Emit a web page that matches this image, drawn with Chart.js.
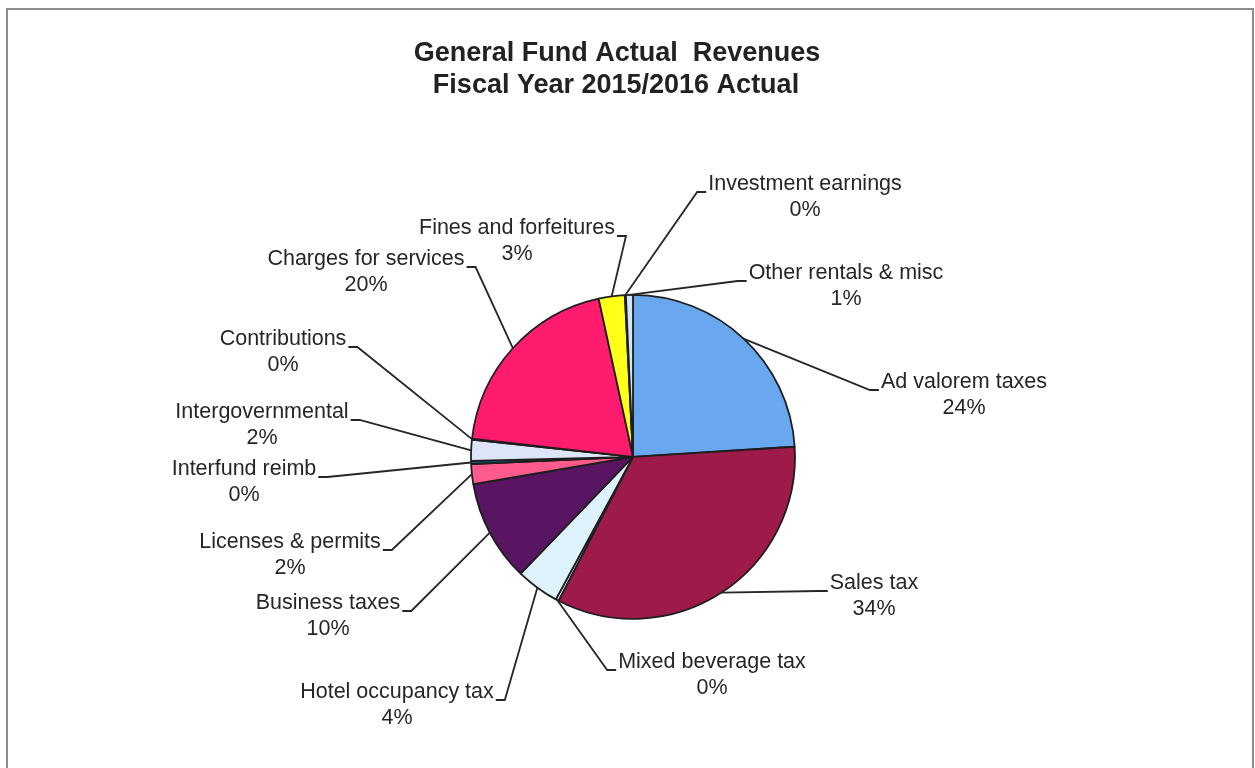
<!DOCTYPE html>
<html>
<head>
<meta charset="utf-8">
<title>General Fund Actual Revenues</title>
<script src="https://cdn.jsdelivr.net/npm/chart.js@4"></script>
<style>
  html, body { margin: 0; padding: 0; background: #fff; }
  #wrap { position: relative; width: 1255px; height: 768px; overflow: hidden; }
  #frame {
    position: absolute; left: 6px; top: 8px; width: 1244px; height: 758px;
    border: 2px solid #8c8c8c; border-bottom-color: #d8d8d8;
  }
  #revChart { position: absolute; left: 0; top: 0; }
</style>
</head>
<body>
<div id="wrap">
  <div id="frame"></div>
  <canvas id="revChart" width="1255" height="768"></canvas>
</div>
<script>
// revenue categories, clockwise from 12 o'clock
const categories = [
  "Ad valorem taxes",
  "Sales tax",
  "Mixed beverage tax",
  "Hotel occupancy tax",
  "Business taxes",
  "Licenses & permits",
  "Interfund reimb",
  "Intergovernmental",
  "Contributions",
  "Charges for services",
  "Fines and forfeitures",
  "Investment earnings",
  "Other rentals & misc"
]
// share of total revenue (%)
const revenueShare = [24.0, 33.6, 0.3, 4.3, 10.1, 2.0, 0.3, 2.1, 0.1, 19.8, 2.6, 0.1, 0.7]

const sliceColors = [
  "#69a7ef", "#9e1a4a", "#e4f3fa", "#ddf2fa", "#5a1562", "#ff5c8d", "#0f5e8c",
  "#dce6f8", "#3b2f7a", "#ff1c6e", "#ffff1a", "#1f3f7f", "#cfe6ff"
]

// where each label block sits (center of first line)
const labelSpots = [
  [964, 382], [874, 583], [712, 662], [397, 692], [328, 603], [290, 542], [244, 469],
  [262, 412], [283, 339], [366, 259], [517, 228], [805, 184], [846, 273]
]

const titleLines = ["General Fund Actual  Revenues", "Fiscal Year 2015/2016 Actual"]

const FONT = '"Liberation Sans", Arial, sans-serif'
const total = revenueShare.reduce((a, b) => a + b, 0)

const calloutPlugin = {
  id: "callouts",
  afterDraw(chart) {
    const ctx = chart.ctx
    const meta = chart.getDatasetMeta(0)
    ctx.save()

    // title
    ctx.fillStyle = "#222"
    ctx.font = "bold 27px " + FONT
    ctx.textAlign = "center"
    ctx.textBaseline = "middle"
    ctx.fillText(titleLines[0], 617, 54)
    ctx.fillText(titleLines[1], 616, 86)

    // labels with leader lines
    ctx.font = "21.5px " + FONT
    ctx.strokeStyle = "#262626"
    ctx.lineWidth = 1.8
    meta.data.forEach((arc, i) => {
      const [lx, ly] = labelSpots[i]
      const name = categories[i]
      const pct = Math.round(revenueShare[i] / total * 100) + "%"
      ctx.fillStyle = "#262626"
      ctx.fillText(name, lx, ly)
      ctx.fillText(pct, lx, ly + 26)

      const mid = (arc.startAngle + arc.endAngle) / 2
      const px = arc.x + Math.cos(mid) * arc.outerRadius
      const py = arc.y + Math.sin(mid) * arc.outerRadius
      const half = ctx.measureText(name).width / 2
      const onLeft = lx < arc.x
      const sx = onLeft ? lx + half + 2 : lx - half - 2
      const kx = onLeft ? sx + 9 : sx - 9
      const sy = ly + 8
      ctx.beginPath()
      ctx.moveTo(sx, sy)
      ctx.lineTo(kx, sy)
      ctx.lineTo(px, py)
      ctx.stroke()
    })
    ctx.restore()
  }
}

new Chart(document.getElementById("revChart"), {
  type: "pie",
  data: {
    labels: categories,
    datasets: [{
      data: revenueShare,
      backgroundColor: sliceColors,
      borderColor: "#1e1e1e",
      borderWidth: 1.8
    }]
  },
  options: {
    responsive: false,
    animation: false,
    layout: {
      padding: { top: 294, bottom: 148.2, left: 20, right: 9 }
    },
    plugins: {
      legend: { display: false },
      tooltip: { enabled: false }
    }
  },
  plugins: [calloutPlugin]
})
</script>
</body>
</html>
